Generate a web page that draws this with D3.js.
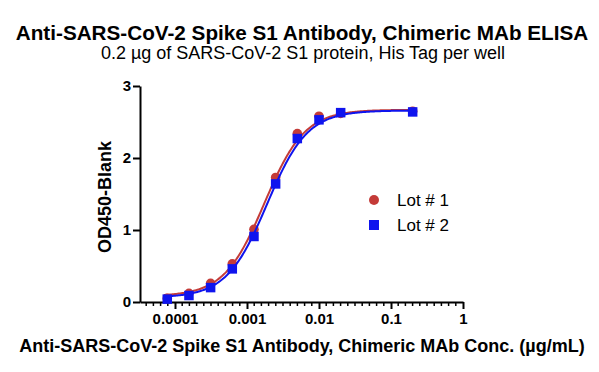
<!DOCTYPE html>
<html>
<head>
<meta charset="utf-8">
<script src="https://cdn.jsdelivr.net/npm/d3@7"></script>
<style>
  body { margin: 0; background: #fff; }
  svg { display: block; font-family: "Liberation Sans", Arial, sans-serif; }
</style>
</head>
<body>
<svg id="chart" width="599" height="372"></svg>
<script>
// concentrations (ug/mL), serial dilution
const conc = [0.000078125, 0.00015625, 0.0003125, 0.000625, 0.00125, 0.0025, 0.005, 0.01, 0.02, 0.2];
const lot1 = [0.05, 0.12, 0.26, 0.53, 1.01, 1.73, 2.34, 2.58, 2.62, 2.65];
const lot2 = [0.04, 0.09, 0.20, 0.46, 0.91, 1.64, 2.27, 2.53, 2.63, 2.64];

// 4PL fit parameters: [bottom, top, ec50, hill]
const fit1 = [0.08, 2.67, 0.00175, 1.55];
const fit2 = [0.06, 2.66, 0.0019, 1.55];
const fitRange = [0.00007, 0.2];

const xTicks = [0.0001, 0.001, 0.01, 0.1, 1];
const xTickLabels = ["0.0001", "0.001", "0.01", "0.1", "1"];
const yTicks = [0, 1, 2, 3];
const seriesNames = ["Lot # 1", "Lot # 2"];

const red = "#c43b38";
const blue = "#0f14ee";

const svg = d3.select("#chart");

// scales: 72px per decade, 0.0001 sits at x=175
const x = d3.scaleLog().domain([Math.pow(10, -4.486), 1]).range([140, 463]);
const y = d3.scaleLinear().domain([0, 3]).range([302, 86]);

// titles
svg.append("text")
  .attr("x", 302).attr("y", 40)
  .attr("text-anchor", "middle")
  .attr("font-size", 20.7).attr("font-weight", "bold")
  .text("Anti-SARS-CoV-2 Spike S1 Antibody, Chimeric MAb ELISA");

svg.append("text")
  .attr("x", 303).attr("y", 59)
  .attr("text-anchor", "middle")
  .attr("font-size", 18)
  .text("0.2 \u00b5g of SARS-CoV-2 S1 protein, His Tag per well");

// y axis
const yAxis = svg.append("g")
  .attr("transform", "translate(140,0)")
  .call(d3.axisLeft(y).tickValues(yTicks).tickFormat(d3.format("d")).tickSize(7).tickSizeOuter(0));
yAxis.select(".domain").attr("stroke-width", 2);
yAxis.selectAll(".tick line").attr("stroke-width", 2);
yAxis.selectAll(".tick text")
  .attr("font-size", 15).attr("font-weight", "bold")
  .attr("font-family", "Liberation Sans, Arial, sans-serif")
  .attr("x", -9);

// x axis minor ticks (evenly spaced, 9 per decade)
const minor = [];
for (let d = -5; d < 0; d++) {
  for (let k = 1; k < 10; k++) {
    const v = Math.pow(10, d + k / 10);
    if (v >= x.domain()[0]) minor.push(v);
  }
}
svg.append("g").selectAll("line")
  .data(minor)
  .join("line")
  .attr("x1", d => x(d)).attr("x2", d => x(d))
  .attr("y1", y(0)).attr("y2", y(0) + 4)
  .attr("stroke", "#000").attr("stroke-width", 1.5);

const xAxis = svg.append("g")
  .attr("transform", `translate(0,${y(0)})`)
  .call(d3.axisBottom(x).tickValues(xTicks).tickFormat((d, i) => xTickLabels[i]).tickSize(7).tickSizeOuter(0));
xAxis.select(".domain").attr("stroke-width", 2);
xAxis.selectAll(".tick line").attr("stroke-width", 2);
xAxis.selectAll(".tick text")
  .attr("font-size", 15).attr("font-weight", "bold")
  .attr("font-family", "Liberation Sans, Arial, sans-serif")
  .attr("y", 11);

// axis titles
svg.append("text")
  .attr("transform", "translate(111,197) rotate(-90)")
  .attr("text-anchor", "middle")
  .attr("font-size", 18).attr("font-weight", "bold")
  .text("OD450-Blank");

svg.append("text")
  .attr("x", 302).attr("y", 352)
  .attr("text-anchor", "middle")
  .attr("font-size", 18).attr("font-weight", "bold")
  .text("Anti-SARS-CoV-2 Spike S1 Antibody, Chimeric MAb Conc. (\u00b5g/mL)");

// fitted curves
function fourPL(p) {
  const [bottom, top, ec50, hill] = p;
  const lo = Math.log10(fitRange[0]), hi = Math.log10(fitRange[1]);
  return d3.range(0, 201).map(i => {
    const c = Math.pow(10, lo + (hi - lo) * i / 200);
    return [c, bottom + (top - bottom) / (1 + Math.pow(ec50 / c, hill))];
  });
}
const line = d3.line().x(d => x(d[0])).y(d => y(d[1])).curve(d3.curveLinear);

const plot = svg.append("g");

plot.append("path")
  .datum(fourPL(fit1))
  .attr("d", line)
  .attr("fill", "none").attr("stroke", red).attr("stroke-width", 2);

plot.append("g").selectAll("circle")
  .data(conc.map((c, i) => [c, lot1[i]]))
  .join("circle")
  .attr("cx", d => x(d[0])).attr("cy", d => y(d[1]))
  .attr("r", 4.8).attr("fill", red);

plot.append("path")
  .datum(fourPL(fit2))
  .attr("d", line)
  .attr("fill", "none").attr("stroke", blue).attr("stroke-width", 2);

const sq = 9.5;
plot.append("g").selectAll("rect")
  .data(conc.map((c, i) => [c, lot2[i]]))
  .join("rect")
  .attr("x", d => x(d[0]) - sq / 2).attr("y", d => y(d[1]) - sq / 2)
  .attr("width", sq).attr("height", sq).attr("fill", blue);

// legend
const legend = svg.append("g").attr("transform", "translate(374,200)");
legend.append("circle").attr("cx", 0).attr("cy", 0).attr("r", 5).attr("fill", red);
legend.append("rect").attr("x", -5).attr("y", 20).attr("width", 10).attr("height", 10).attr("fill", blue);
legend.selectAll("text")
  .data(seriesNames)
  .join("text")
  .attr("x", 23).attr("y", (d, i) => 6 + i * 25)
  .attr("font-size", 17)
  .text(d => d);
</script>
</body>
</html>
